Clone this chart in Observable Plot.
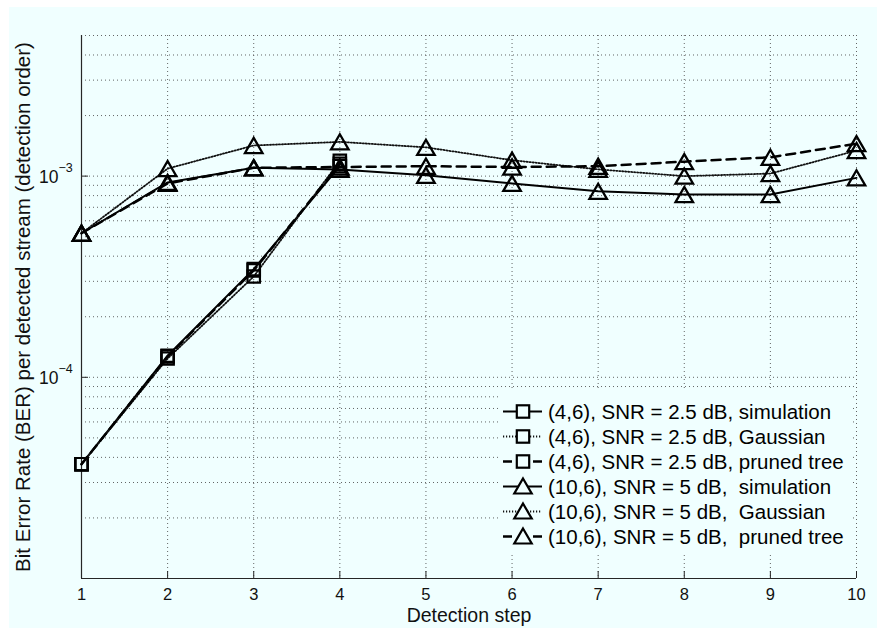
<!DOCTYPE html>
<html>
<head>
<meta charset="utf-8">
<script src="https://cdn.jsdelivr.net/npm/d3@7"></script>
<script src="https://cdn.jsdelivr.net/npm/@observablehq/plot@0.6"></script>
<style>
  html, body { margin: 0; padding: 0; background: #ffffff; }
  #wrap { position: relative; width: 877px; height: 628px; overflow: hidden; font-family: "Liberation Sans", Arial, sans-serif; }
  #bg { position: absolute; left: 9px; top: 7px; right: 0; bottom: 0; background: #f0ffff; }
  #chart { position: absolute; left: 0; top: 0; }
  #legend { position: absolute; left: 500px; top: 390px; width: 352px; height: 163px; background: #f0ffff; }
  .row { position: absolute; left: 0; height: 25px; display: flex; align-items: center; }
  .row svg { flex: none; }
  .row span { white-space: pre; font-size: 20.5px; color: #000; margin-left: 3px; }
</style>
</head>
<body>
<div id="wrap">
  <div id="bg"></div>
  <div id="chart"></div>
  <div id="legend"></div>
</div>
<script>
// ---- data ----
const xSteps = [1, 2, 3, 4, 5, 6, 7, 8, 9, 10];
const sqSteps = [1, 2, 3, 4];
const sqSimulation = [3.7e-5, 1.28e-4, 3.45e-4, 1.12e-3];
const sqGaussian   = [3.7e-5, 1.24e-4, 3.17e-4, 1.19e-3];
const sqPruned     = [3.7e-5, 1.27e-4, 3.40e-4, 1.15e-3];
const triSimulation = [5.2e-4, 9.3e-4, 1.10e-3, 1.08e-3, 1.01e-3, 9.2e-4, 8.4e-4, 8.1e-4, 8.1e-4, 9.8e-4];
const triGaussian   = [5.2e-4, 1.09e-3, 1.42e-3, 1.48e-3, 1.39e-3, 1.20e-3, 1.08e-3, 1.00e-3, 1.03e-3, 1.34e-3];
const triPruned     = [5.2e-4, 9.2e-4, 1.10e-3, 1.11e-3, 1.12e-3, 1.11e-3, 1.12e-3, 1.18e-3, 1.24e-3, 1.45e-3];
const legendLabels = [
  "(4,6), SNR = 2.5 dB, simulation",
  "(4,6), SNR = 2.5 dB, Gaussian",
  "(4,6), SNR = 2.5 dB, pruned tree",
  "(10,6), SNR = 5 dB,  simulation",
  "(10,6), SNR = 5 dB,  Gaussian",
  "(10,6), SNR = 5 dB,  pruned tree"
];
const xTicks = [1, 2, 3, 4, 5, 6, 7, 8, 9, 10];
const yTickValues = [1e-4, 1e-3];
const yTickBase = ["10", "10"];
const yTickExp = ["\u22124", "\u22123"];
const yGridValues = [];
for (const dec of [1e-5, 1e-4, 1e-3]) for (let m = 1; m <= 9; m++) { const v = m * dec; if (v <= 5.0001e-3) yGridValues.push(v); }
const xLabel = "Detection step";
const yLabel = "Bit Error Rate (BER) per detected stream (detection order)";

// ---- styles ----
const styles = {
  simulation: {stroke: "#000", strokeWidth: 2},
  gaussian: {stroke: "#111", strokeWidth: 1.8, strokeDasharray: "1.2,1.8"},
  pruned: {stroke: "#000", strokeWidth: 2.5, strokeDasharray: "9,6"}
};

function rows(xs, ys) { return xs.map((x, i) => ({x, y: ys[i]})); }
const sqSeries = [
  {data: rows(sqSteps, sqSimulation), st: styles.simulation},
  {data: rows(sqSteps, sqGaussian), st: styles.gaussian},
  {data: rows(sqSteps, sqPruned), st: styles.pruned}
];
const triSeries = [
  {data: rows(xSteps, triSimulation), st: styles.simulation},
  {data: rows(xSteps, triGaussian), st: styles.gaussian},
  {data: rows(xSteps, triPruned), st: styles.pruned}
];

const gridStyle = {stroke: "#4a4a4a", strokeWidth: 1, strokeDasharray: "1,3", strokeOpacity: 0.85};
const axisColor = "#262626";
const H = 628, MT = 35, MB = 50;

const marks = [
  Plot.ruleX(xTicks, {x: d => d, ...gridStyle}),
  Plot.ruleY(yGridValues, {y: d => d, ...gridStyle}),
  Plot.ruleX(xTicks, {x: d => d, stroke: axisColor, strokeWidth: 1, insetTop: H - MT - MB - 7}),
  Plot.ruleY(yTickValues, {y: d => d, stroke: axisColor, strokeWidth: 1, insetRight: (877 - 81 - 21) - 7}),
  Plot.ruleX([1], {x: d => d, stroke: axisColor, strokeWidth: 1.2}),
  Plot.ruleY([1e-5], {y: d => d, stroke: axisColor, strokeWidth: 1.2}),
  Plot.text(xTicks, {x: d => d, frameAnchor: "bottom", lineAnchor: "middle", dy: 16, text: d => String(d), fontSize: 16.5, fill: "#111"}),
  Plot.text(yTickValues, {y: d => d, frameAnchor: "left", lineAnchor: "middle", text: (d, i) => yTickBase[i], textAnchor: "end", dx: -23, dy: 1, fontSize: 17.5, fill: "#111"}),
  Plot.text(yTickValues, {y: d => d, frameAnchor: "left", lineAnchor: "middle", text: (d, i) => yTickExp[i], textAnchor: "start", dx: -23, dy: -8, fontSize: 12.5, fill: "#111"}),
  Plot.text([xLabel], {frameAnchor: "bottom", lineAnchor: "middle", textAnchor: "middle", dy: 37, text: d => d, fontSize: 19.5, fill: "#111"}),
  Plot.text([yLabel], {frameAnchor: "left", lineAnchor: "middle", textAnchor: "middle", dx: -58, rotate: -90, text: d => d, fontSize: 20.5, fill: "#111"})
];
for (const s of triSeries) marks.push(Plot.line(s.data, {x: "x", y: "y", ...s.st}));
for (const s of sqSeries) marks.push(Plot.line(s.data, {x: "x", y: "y", ...s.st}));
for (const s of triSeries) marks.push(Plot.dot(s.data, {x: "x", y: "y", symbol: "triangle", r: 6.5, dy: 2.5, stroke: "#000", strokeWidth: 2.3, fill: "none"}));
for (const s of sqSeries) marks.push(Plot.dot(s.data, {x: "x", y: "y", symbol: "square", r: 7, stroke: "#000", strokeWidth: 2.2, fill: "none"}));

const chart = Plot.plot({
  width: 877, height: H,
  marginLeft: 81, marginRight: 21, marginTop: MT, marginBottom: MB,
  style: {background: "transparent", fontFamily: "Liberation Sans, Arial, sans-serif", overflow: "visible"},
  x: {domain: [1, 10], axis: null},
  y: {type: "log", domain: [1e-5, 5e-3], axis: null},
  marks
});
document.getElementById("chart").appendChild(chart);

// ---- legend ----
const legend = document.getElementById("legend");
const legendStyles = [styles.simulation, styles.gaussian, styles.pruned, styles.simulation, styles.gaussian, styles.pruned];
legendLabels.forEach((label, i) => {
  const st = legendStyles[i];
  const row = document.createElement("div");
  row.className = "row";
  row.style.top = (9 + i * 25) + "px";
  const ns = "http://www.w3.org/2000/svg";
  const svg = document.createElementNS(ns, "svg");
  svg.setAttribute("width", 45); svg.setAttribute("height", 25);
  const ln = document.createElementNS(ns, "line");
  ln.setAttribute("x1", 3); ln.setAttribute("x2", 42); ln.setAttribute("y1", 12.5); ln.setAttribute("y2", 12.5);
  ln.setAttribute("stroke", st.stroke); ln.setAttribute("stroke-width", st.strokeWidth);
  if (st.strokeDasharray) ln.setAttribute("stroke-dasharray", st.strokeDasharray);
  svg.appendChild(ln);
  let m;
  if (i < 3) {
    m = document.createElementNS(ns, "rect");
    m.setAttribute("x", 23 - 6.2); m.setAttribute("y", 12.5 - 6.2); m.setAttribute("width", 12.4); m.setAttribute("height", 12.4);
  } else {
    m = document.createElementNS(ns, "path");
    m.setAttribute("d", "M23,4.5 L31.7,19.5 L14.3,19.5 Z");
  }
  m.setAttribute("fill", "#f0ffff"); m.setAttribute("stroke", "#000"); m.setAttribute("stroke-width", 2.2);
  svg.appendChild(m);
  row.appendChild(svg);
  const sp = document.createElement("span");
  sp.textContent = label;
  row.appendChild(sp);
  legend.appendChild(row);
});
</script>
</body>
</html>
